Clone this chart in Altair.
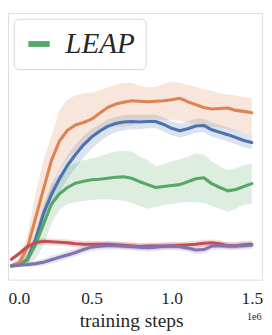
import altair as alt
import pandas as pd

# training steps (millions)
steps_m = [0.0, 0.05, 0.1, 0.15, 0.2, 0.25, 0.3, 0.35, 0.4, 0.45, 0.5, 0.55, 0.6, 0.65, 0.7,
           0.75, 0.8, 0.85, 0.9, 0.95, 1.0, 1.05, 1.1, 1.15, 1.2, 1.25, 1.3, 1.35, 1.4, 1.45, 1.5]

methods = ["Method A", "Method B", "LEAP", "Method C", "Method D"]
colors = ["#4c72b0", "#dd8452", "#55a868", "#c44e52", "#8172b3"]

# blue
a_mean = [14, 15, 21, 41, 68, 88, 104, 118, 129, 139, 147, 153, 158, 161, 162.5, 163, 162.5, 163, 163,
          160, 156, 153.5, 155.5, 158.5, 159, 154.5, 152, 149.5, 146.5, 143.5, 141.5]
a_hi = [16, 18, 27, 50, 78, 98, 114, 128, 139, 148, 155, 160, 165, 168, 169.5, 170, 170, 170, 170,
        167.5, 163, 161, 163, 166, 166, 162, 159.5, 157, 154, 151, 149]
a_lo = [12, 13, 16, 33, 56, 74, 90, 104, 115, 126, 135, 142, 148, 152, 154, 155, 155, 156, 156,
        153, 149, 146.5, 148.5, 151.5, 152, 147.5, 145, 142.5, 139.5, 136.5, 134.5]
# orange
b_mean = [14, 18, 33, 63, 93, 123, 143, 154, 159.5, 162, 165.5, 171.5, 177.5, 181, 183, 184.5, 184,
          183.5, 184, 184.5, 185.5, 187, 183.5, 180.5, 177.5, 176, 176.5, 177, 174.5, 173.5, 172]
b_hi = [16, 23, 45, 88, 123, 148, 175, 186, 190, 192, 193, 195, 198, 201, 203, 203, 200, 198, 199,
        202, 204, 203, 201, 199, 196, 195, 192, 191, 190, 188, 187]
b_lo = [12, 15, 25, 43, 68, 93, 113, 125, 133, 139, 147, 153, 156, 158, 158, 159, 163, 164, 165,
        164, 165, 164, 162, 160, 159, 158, 157, 155, 153, 151, 149]
# green (LEAP)
c_mean = [14, 15, 20, 36, 57, 78, 88.5, 95, 99.5, 101.5, 103, 103.5, 104.5, 105.5, 106, 104.5, 101,
          98, 95, 96, 97, 98, 101, 104, 105, 99, 95, 91.5, 93, 96, 99]
c_hi = [16, 18, 28, 45, 73, 97, 108, 116, 120, 123, 125, 127, 130, 132, 133, 132, 127, 123, 117,
        119, 122, 124, 127, 130, 129, 122, 117, 113, 115, 118, 120]
c_lo = [12, 13, 15, 21, 35, 58, 72, 78, 80, 81, 82, 83, 83, 82, 81, 79, 76, 73, 75,
        77, 78, 79.5, 80, 80, 79, 76, 73, 70, 73, 77, 78]
# red
d_mean = [21, 27, 34, 38, 39.5, 39, 38.5, 38, 37, 36.5, 36.5, 36.5, 36.5, 36, 35.5, 35, 34, 34.5,
          34.5, 34.5, 35, 35.5, 36, 36.5, 37.5, 38, 37, 35, 35, 36, 36.5]
d_err = [2, 2.5, 3, 3.5, 3.5, 3.5, 3.5, 3.5, 3.5, 3.5, 3.5, 3.5, 3.5, 3.5, 3.5, 3.5, 3.5, 3.5,
         3.5, 3.5, 3.5, 3.5, 3.5, 3.5, 3.5, 3.5, 3.5, 3.5, 3.5, 3.5, 3.5]
# purple
e_mean = [14.5, 15, 15.5, 16.5, 18, 20.5, 23, 25.5, 28, 31, 33.5, 34.5, 35, 35, 34.5, 34, 33.5, 33,
          33.5, 34.5, 34.5, 34, 32.5, 30.5, 31, 34.5, 35, 34.5, 34.5, 35, 35.5]
e_err = [2, 2, 2.5, 3, 3.5, 4, 4, 4, 4, 4, 4, 4, 4, 4, 4, 4, 4, 4,
         4, 4, 4, 4, 4, 4, 4, 4, 4, 4, 4, 4, 4]

series = {
    "Method A": (a_mean, a_lo, a_hi),
    "Method B": (b_mean, b_lo, b_hi),
    "LEAP": (c_mean, c_lo, c_hi),
    "Method C": (d_mean, [m - e for m, e in zip(d_mean, d_err)], [m + e for m, e in zip(d_mean, d_err)]),
    "Method D": (e_mean, [m - e for m, e in zip(e_mean, e_err)], [m + e for m, e in zip(e_mean, e_err)]),
}

rows = []
for order, name in enumerate(methods):
    mean, lo, hi = series[name]
    for s, m, l, h in zip(steps_m, mean, lo, hi):
        rows.append({"step": s * 1e6, "method": name, "order": order, "mean": m, "lo": l, "hi": h})
df = pd.DataFrame(rows)

FONT = "Liberation Serif"
TXT = "#262626"

xscale = alt.Scale(domain=[-21200, 1563800], nice=False, zero=False)
yscale = alt.Scale(domain=[0, 275], nice=False, zero=False)
color_scale = alt.Scale(domain=methods, range=colors)

xaxis = alt.Axis(values=[0, 500000, 1000000, 1500000],
                 labelExpr="format(datum.value / 1e6, '.1f')",
                 ticks=False, domain=False, grid=False,
                 labelFlush=5, labelFlushOffset=3.5,
                 labelFont=FONT, labelFontSize=18, labelColor=TXT, labelPadding=11,
                 title="training steps", titleFont=FONT, titleFontSize=20,
                 titleFontWeight="normal", titleColor=TXT, titleBaseline="alphabetic",
                 titleY=48, titleX=127, titleAlign="center")

legend = alt.Legend(values=["LEAP"], orient="none", legendX=6, legendY=6,
                    title=None, fillColor="rgba(255,255,255,0.85)",
                    strokeColor="#d6d6d6", cornerRadius=5, padding=11,
                    symbolType="stroke", symbolSize=484, symbolStrokeWidth=6,
                    symbolOpacity=1,
                    labelFont=FONT, labelFontSize=30, labelFontStyle="italic",
                    labelColor=TXT, labelOffset=12)

base = alt.Chart(df)

bands = base.mark_area(opacity=0.2).encode(
    x=alt.X("step:Q", scale=xscale, axis=xaxis),
    y=alt.Y("lo:Q", scale=yscale, axis=None),
    y2="hi:Q",
    color=alt.Color("method:N", scale=color_scale, legend=legend),
    detail="method:N",
    order="order:Q",
)

lines = base.mark_line(strokeWidth=3.2, strokeCap="round", strokeJoin="round").encode(
    x=alt.X("step:Q", scale=xscale, axis=xaxis),
    y=alt.Y("mean:Q", scale=yscale, axis=None),
    color=alt.Color("method:N", scale=color_scale, legend=legend),
    order="order:Q",
)

sci = alt.Chart(pd.DataFrame({"t": ["1e6"]})).mark_text(
    font=FONT, fontSize=10.5, color=TXT, align="right", baseline="alphabetic"
).encode(text="t:N", x=alt.value(261.5), y=alt.value(317))

chart = alt.layer(bands, lines, sci).properties(
    width=262, height=275,
    autosize=alt.AutoSizeParams(type="none"),
    padding={"left": 0, "top": 0, "right": 2, "bottom": 52},
).configure_view(stroke="#555555", strokeWidth=2.5).configure(background="white")

chart.save("out.html", embed_options={"renderer": "svg", "actions": False})
